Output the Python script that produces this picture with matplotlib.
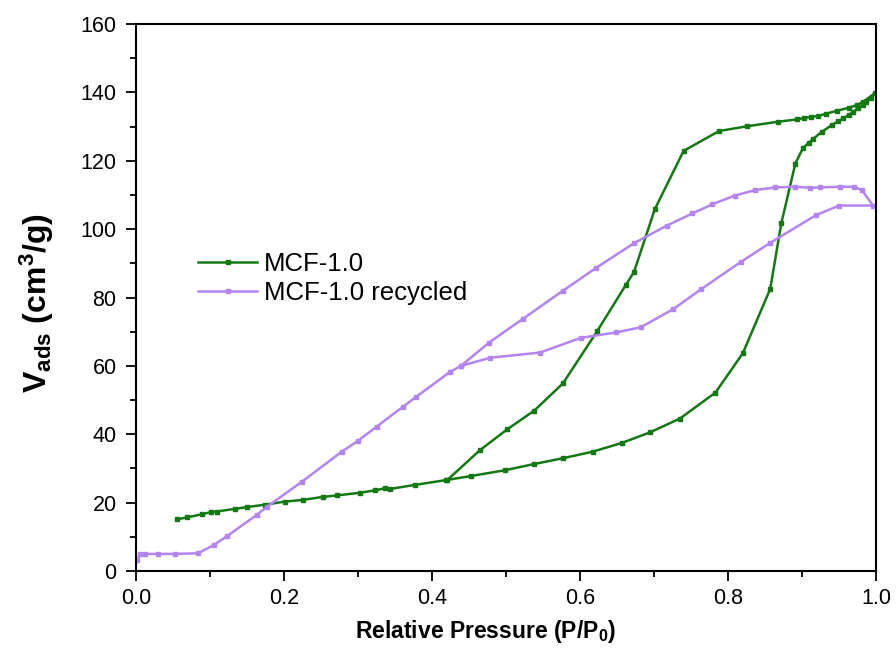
import matplotlib.pyplot as plt
from matplotlib.ticker import MultipleLocator

# ----------------------------
# Data read off the isotherms
# ----------------------------
# MCF-1.0: adsorption branch, then desorption branch back to closure
mcf_p = [0.055, 0.069, 0.089, 0.102, 0.109, 0.134, 0.150, 0.174, 0.201, 0.225,
         0.253, 0.271, 0.303, 0.323, 0.336, 0.343, 0.377, 0.419, 0.453, 0.499,
         0.538, 0.577, 0.617, 0.657, 0.695, 0.735, 0.783, 0.820, 0.857, 0.872,
         0.891, 0.901, 0.909, 0.915, 0.927, 0.940, 0.949, 0.956, 0.963, 0.969,
         0.976, 0.982, 0.987, 0.993, 0.998,
         0.983, 0.974, 0.963, 0.947, 0.933, 0.922, 0.912, 0.903, 0.893, 0.867,
         0.826, 0.788, 0.740, 0.701, 0.673, 0.662, 0.623, 0.577, 0.538, 0.502,
         0.465, 0.420]
mcf_v = [15.1, 15.7, 16.6, 17.3, 17.4, 18.2, 18.7, 19.4, 20.3, 20.8,
         21.7, 22.1, 22.9, 23.6, 24.2, 24.0, 25.2, 26.6, 27.8, 29.5,
         31.3, 33.0, 34.9, 37.5, 40.6, 44.6, 52.2, 63.7, 82.5, 101.7,
         119.2, 123.6, 125.3, 126.4, 128.5, 130.4, 131.6, 132.4, 133.4, 134.3,
         135.3, 136.3, 137.3, 138.3, 139.7,
         137.3, 136.3, 135.5, 134.6, 133.8, 133.1, 132.8, 132.5, 132.1, 131.4,
         130.1, 128.7, 122.9, 105.8, 87.5, 83.7, 70.1, 54.9, 46.9, 41.5,
         35.4, 26.5]

# MCF-1.0 recycled
rec_p = [0.002, 0.005, 0.012, 0.030, 0.053, 0.084, 0.105, 0.123, 0.163, 0.177,
         0.224, 0.278, 0.300, 0.325, 0.361, 0.379, 0.424, 0.439, 0.477, 0.523,
         0.577, 0.622, 0.673, 0.717, 0.752, 0.779, 0.809, 0.836, 0.864, 0.891,
         0.911, 0.924, 0.951, 0.970, 0.981, 0.996,
         0.950, 0.919, 0.857, 0.818, 0.764, 0.726, 0.682, 0.649, 0.601, 0.546,
         0.479, 0.439]
rec_v = [3.2, 5.0, 5.0, 5.0, 5.0, 5.2, 7.6, 10.2, 16.4, 18.8,
         26.1, 34.9, 38.1, 42.2, 48.1, 51.0, 58.2, 60.0, 66.8, 73.8,
         82.0, 88.7, 95.9, 101.0, 104.6, 107.3, 109.8, 111.4, 112.2, 112.4,
         112.1, 112.2, 112.4, 112.4, 111.4, 106.9,
         106.9, 104.1, 96.0, 90.5, 82.5, 76.6, 71.3, 69.8, 68.2, 63.9,
         62.4, 60.0]

GREEN = '#137A13'
PURPLE = '#B384F2'


def main():
    plt.rcParams['font.family'] = ['Liberation Sans', 'DejaVu Sans']
    plt.rcParams['mathtext.default'] = 'regular'

    fig = plt.figure(figsize=(8.96, 6.6), dpi=100)
    ax = fig.add_axes([0.1518, 0.1348, 0.8259, 0.8288])

    ax.plot(mcf_p, mcf_v, color=GREEN, lw=1.8, marker='s', ms=3.2,
            label='MCF-1.0')
    ax.plot(rec_p, rec_v, color=PURPLE, lw=1.8, marker='s', ms=3.2,
            label='MCF-1.0 recycled')

    ax.set_xlim(0, 1.0)
    ax.set_ylim(0, 160)
    ax.xaxis.set_major_locator(MultipleLocator(0.2))
    ax.xaxis.set_minor_locator(MultipleLocator(0.1))
    ax.yaxis.set_major_locator(MultipleLocator(20))
    ax.yaxis.set_minor_locator(MultipleLocator(10))
    ax.tick_params(which='both', direction='out', width=1.3,
                   top=False, right=False, labelsize=15.5)
    ax.tick_params(which='major', length=7)
    ax.tick_params(which='minor', length=4)
    ax.tick_params(axis='x', pad=5)
    ax.tick_params(axis='y', pad=7)
    for s in ax.spines.values():
        s.set_linewidth(1.5)

    ax.set_xlabel('Relative Pressure (P/P$_0$)', fontsize=16.5,
                  fontweight='bold')
    ax.xaxis.set_label_coords(0.473, -0.085)
    ax.set_ylabel('V$_{ads}$ (cm$^3$/g)', fontsize=23,
                  fontweight='bold')
    ax.yaxis.set_label_coords(-0.108, 0.49)

    ax.legend(loc='upper left', bbox_to_anchor=(0.053, 0.625), frameon=False,
              fontsize=18.5, handlelength=2.3, handletextpad=0.25,
              labelspacing=0.2)

    fig.savefig('out.png', dpi=100)


if __name__ == "__main__":
    main()
